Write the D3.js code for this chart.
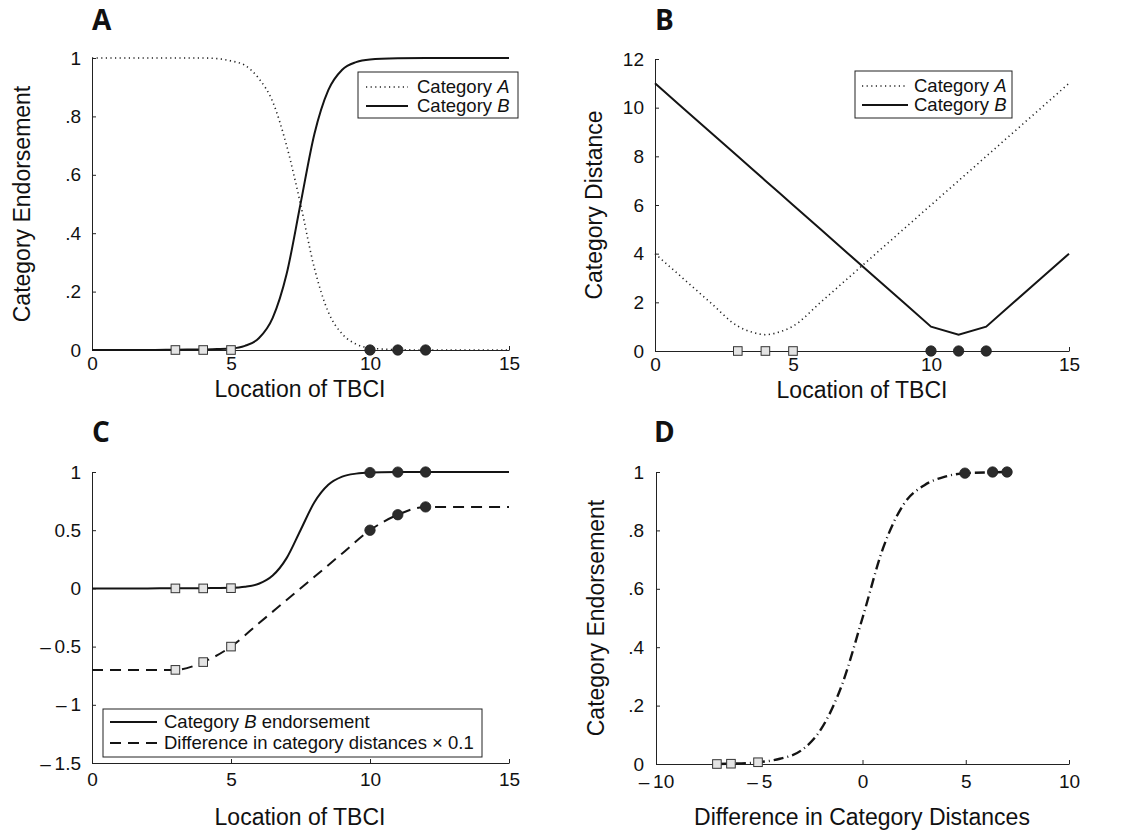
<!DOCTYPE html>
<html><head><meta charset="utf-8">
<script src="https://cdn.jsdelivr.net/npm/d3@7"></script>
<style>
body{margin:0;background:#fff}
svg text{font-family:"Liberation Sans",Arial,Helvetica,sans-serif;fill:#111}
</style>
</head><body><svg id="c" width="1125" height="830"></svg>
<script>
// ---------- data ----------
const tbciTicks = [0, 5, 10, 15];
const endorseTicks = [0, 0.2, 0.4, 0.6, 0.8, 1];
const endorseLabels = ["0", ".2", ".4", ".6", ".8", "1"];
const distTicks = [0, 2, 4, 6, 8, 10, 12];
const cTicks = [-1.5, -1, -0.5, 0, 0.5, 1];
const cLabels = ["\u2013\u20091.5", "\u2013\u20091", "\u2013\u20090.5", "0", "0.5", "1"];
const dTicks = [-10, -5, 0, 5, 10];
const dLabels = ["\u2013\u200910", "\u2013\u20095", "0", "5", "10"];

// Panel A / C: endorsement vs location of TBCI
const tbciX    = [0, 1, 2, 3, 4, 4.5, 5, 5.5, 6, 6.5, 7, 7.5, 8, 8.5, 9, 9.5, 10, 11, 12, 13, 14, 15];
const endorseB = [0, 0, 0, 0.001, 0.002, 0.003, 0.005, 0.014, 0.04, 0.11, 0.26, 0.5, 0.74, 0.89, 0.96, 0.986, 0.995, 0.999, 1, 1, 1, 1];
const endorseA = [1, 1, 1, 1, 1, 0.998, 0.99, 0.975, 0.93, 0.85, 0.70, 0.5, 0.28, 0.13, 0.055, 0.02, 0.007, 0.001, 0, 0, 0, 0];

// Panel B: category distances
const distX = [0, 1, 2, 3, 3.5, 4, 4.5, 5, 6, 7, 8, 9, 10, 11, 12, 13, 14, 15];
const distA = [4, 3, 2, 1.02, 0.78, 0.67, 0.78, 1.02, 2, 3, 4, 5, 6, 7, 8, 9, 10, 11];
const distB = [11, 10, 9, 8, 7.5, 7, 6.5, 6, 5, 4, 3, 2, 1, 0.67, 1, 2, 3, 4];

// Panel C: difference in category distances x 0.1
const diffX      = [0, 1, 2, 3, 4, 5, 6, 7, 8, 9, 10, 11, 12, 13, 14, 15];
const diffScaled = [-0.7, -0.7, -0.7, -0.7, -0.633, -0.5, -0.3, -0.1, 0.1, 0.3, 0.5, 0.633, 0.7, 0.7, 0.7, 0.7];

// Panel D: endorsement vs difference in category distances
const dDiff    = [-7.05, -6.37, -5.06, -4, -3, -2, -1, 0, 1, 2, 3, 4, 4.96, 6.3, 7.0];
const dEndorse = [0, 0.001, 0.006, 0.018, 0.045, 0.12, 0.27, 0.5, 0.74, 0.89, 0.955, 0.984, 0.996, 0.999, 1];

// stimulus markers
const stimLow  = [3, 4, 5];
const stimHigh = [10, 11, 12];
const lowEndorseC  = [0, 0, 0.002];
const highEndorseC = [0.995, 0.999, 1];
const lowDiffScaled  = [-0.7, -0.633, -0.5];
const highDiffScaled = [0.5, 0.633, 0.7];
const lowDiff  = [-7.05, -6.37, -5.06];
const highDiff = [4.96, 6.3, 7.0];
const lowEndorseD  = [0, 0.001, 0.006];
const highEndorseD = [0.996, 1, 1];

// ---------- drawing ----------
const svg = d3.select("#c");
const LINE = "#141414";
const SQ_FILL = "#e4e4e4", SQ_STROKE = "#333", CIRC = "#2b2b2b";

function axes(x, y, xt, xl, yt, yl, xPad, yPad) {
  const gx = svg.append("g").attr("transform", `translate(0,${y.range()[0]})`)
    .call(d3.axisBottom(x).tickValues(xt).tickFormat((d, i) => xl[i])
      .tickSizeInner(-4).tickSizeOuter(0).tickPadding(xPad));
  const gy = svg.append("g").attr("transform", `translate(${x.range()[0]},0)`)
    .call(d3.axisLeft(y).tickValues(yt).tickFormat((d, i) => yl[i])
      .tickSizeInner(-4).tickSizeOuter(0).tickPadding(yPad));
  [gx, gy].forEach(g => {
    g.attr("font-family", null).attr("font-size", null);
    g.selectAll("text").style("font-size", "19px").attr("fill", "#111");
    g.selectAll("line,path").attr("stroke", "#222").attr("stroke-width", 1);
  });
}
function line(x, y, xs, ys, style, curve) {
  const pts = xs.map((v, i) => [v, ys[i]]);
  const p = svg.append("path").datum(pts)
    .attr("d", d3.line().x(d => x(d[0])).y(d => y(d[1])).curve(curve || d3.curveMonotoneX))
    .attr("fill", "none").attr("stroke", LINE).attr("stroke-width", 2);
  if (style === "dot") p.attr("stroke", "#222").attr("stroke-width", 1.6).attr("stroke-dasharray", "1.2,3.4");
  if (style === "dash") p.attr("stroke-dasharray", "11,7");
  if (style === "dashdot") p.attr("stroke-width", 2.4).attr("stroke-dasharray", "10,4,1,4");
  return p;
}
function squares(x, y, xs, ys) {
  svg.append("g").selectAll("rect").data(xs.map((v, i) => [v, ys[i]])).join("rect")
    .attr("x", d => x(d[0]) - 4.3).attr("y", d => y(d[1]) - 4.3)
    .attr("width", 8.6).attr("height", 8.6)
    .attr("fill", SQ_FILL).attr("stroke", SQ_STROKE).attr("stroke-width", 1);
}
function circles(x, y, xs, ys) {
  svg.append("g").selectAll("circle").data(xs.map((v, i) => [v, ys[i]])).join("circle")
    .attr("cx", d => x(d[0])).attr("cy", d => y(d[1])).attr("r", 5.2)
    .attr("fill", CIRC).attr("stroke", "#222").attr("stroke-width", 0.8);
}
function letter(t, x, y) {
  svg.append("text").attr("x", x).attr("y", y).text(t)
    .style("font-family", "'Open Sans','DejaVu Sans',sans-serif")
    .style("font-weight", "700").style("font-size", "28px");
}
function xLabel(t, x, y) {
  svg.append("text").attr("x", x).attr("y", y).attr("text-anchor", "middle")
    .attr("dy", "0.35em").style("font-size", "23px").text(t);
}
function yLabel(t, x, y) {
  svg.append("text").attr("transform", `translate(${x},${y}) rotate(-90)`)
    .attr("text-anchor", "middle").attr("dy", "0.35em").style("font-size", "23px").text(t);
}
function legend(x0, y0, w, h, items, lineX0, lineX1, textX) {
  svg.append("rect").attr("x", x0).attr("y", y0).attr("width", w).attr("height", h)
    .attr("fill", "#fff").attr("stroke", "#222").attr("stroke-width", 1);
  items.forEach(it => {
    const l = svg.append("line").attr("x1", lineX0).attr("x2", lineX1).attr("y1", it.y).attr("y2", it.y)
      .attr("stroke", LINE).attr("stroke-width", 2);
    if (it.style === "dot") l.attr("stroke", "#222").attr("stroke-width", 1.6).attr("stroke-dasharray", "1.2,3.4");
    if (it.style === "dash") l.attr("stroke-dasharray", "11,7");
    const t = svg.append("text").attr("x", textX).attr("y", it.y).attr("dy", "0.35em").style("font-size", "18.5px");
    it.parts.forEach(p => t.append("tspan").text(p[0]).style("font-style", p[1] ? "italic" : "normal"));
  });
}

// Panel A
{
  const x = d3.scaleLinear([0, 15], [92, 509]);
  const y = d3.scaleLinear([0, 1], [350, 58]);
  axes(x, y, tbciTicks, tbciTicks.map(String), endorseTicks, endorseLabels, 7, 11);
  line(x, y, tbciX, endorseA, "dot");
  line(x, y, tbciX, endorseB, "solid");
  squares(x, y, stimLow, stimLow.map(() => 0));
  circles(x, y, stimHigh, stimHigh.map(() => 0));
  legend(358, 72, 160, 46, [
    {y: 87, style: "dot", parts: [["Category ", false], ["A", true]]},
    {y: 106, style: "solid", parts: [["Category ", false], ["B", true]]}
  ], 366, 408, 417);
  letter("A", 92, 30);
  xLabel("Location of TBCI", 300, 389);
  yLabel("Category Endorsement", 22, 204);
}
// Panel B
{
  const x = d3.scaleLinear([0, 15], [655, 1069]);
  const y = d3.scaleLinear([0, 12], [351, 59]);
  axes(x, y, tbciTicks, tbciTicks.map(String), distTicks, distTicks.map(String), 7, 11);
  line(x, y, distX, distA, "dot");
  line(x, y, distX, distB, "solid", d3.curveLinear);
  squares(x, y, stimLow, stimLow.map(() => 0));
  circles(x, y, stimHigh, stimHigh.map(() => 0));
  legend(855, 71, 157, 47, [
    {y: 86, style: "dot", parts: [["Category ", false], ["A", true]]},
    {y: 105, style: "solid", parts: [["Category ", false], ["B", true]]}
  ], 862, 908, 914);
  letter("B", 655, 30);
  xLabel("Location of TBCI", 862, 390);
  yLabel("Category Distance", 594, 205);
}
// Panel C
{
  const x = d3.scaleLinear([0, 15], [92, 509]);
  const y = d3.scaleLinear([-1.5, 1], [763, 472]);
  axes(x, y, tbciTicks, tbciTicks.map(String), cTicks, cLabels, 10, 11);
  line(x, y, tbciX, endorseB, "solid");
  line(x, y, diffX, diffScaled, "dash");
  squares(x, y, stimLow, lowEndorseC);
  circles(x, y, stimHigh, highEndorseC);
  squares(x, y, stimLow, lowDiffScaled);
  circles(x, y, stimHigh, highDiffScaled);
  legend(103, 709, 379, 48, [
    {y: 722, style: "solid", parts: [["Category ", false], ["B", true], [" endorsement", false]]},
    {y: 743, style: "dash", parts: [["Difference in category distances \u00d7 0.1", false]]}
  ], 110, 157, 164);
  letter("C", 92, 442);
  xLabel("Location of TBCI", 300, 817);
}
// Panel D
{
  const x = d3.scaleLinear([-10, 10], [656, 1069]);
  const y = d3.scaleLinear([0, 1], [764, 472]);
  axes(x, y, dTicks, dLabels, endorseTicks, endorseLabels, 11, 12);
  line(x, y, dDiff, dEndorse, "dashdot");
  squares(x, y, lowDiff, lowEndorseD);
  circles(x, y, highDiff, highEndorseD);
  letter("D", 654, 442);
  xLabel("Difference in Category Distances", 862, 817);
  yLabel("Category Endorsement", 596, 618);
}
</script>
</body></html>
